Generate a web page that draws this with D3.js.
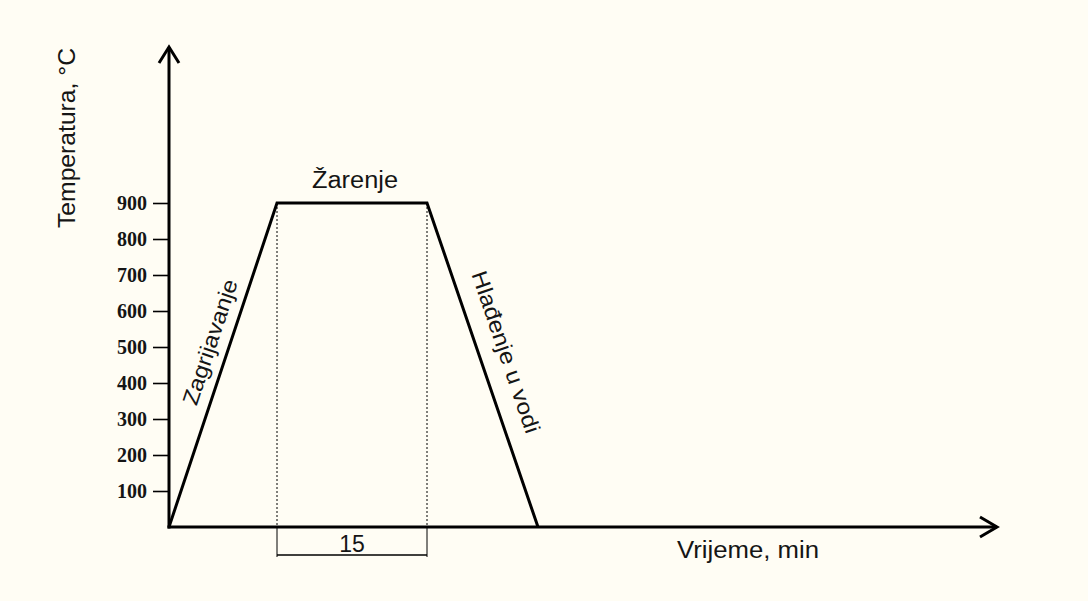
<!DOCTYPE html>
<html><head><meta charset="utf-8">
<script src="https://cdn.jsdelivr.net/npm/d3@7"></script>
<style>
html,body{margin:0;padding:0;background:#fffdf4;}
svg{display:block;}
</style></head>
<body>
<svg id="chart" width="1088" height="601"></svg>
<script>
// Data
const times = [0, 10.8, 25.8, 36.9];          // minutes
const temps = [0, 900, 900, 0];               // °C
const yTicks = [100, 200, 300, 400, 500, 600, 700, 800, 900];
const phaseLabels = ["Zagrijavanje", "Žarenje", "Hlađenje u vodi"];
const holdLabel = "15";
const yTitle = "Temperatura, °C";
const xTitle = "Vrijeme, min";

const svg = d3.select("#chart");
svg.append("rect").attr("width",1088).attr("height",601).attr("fill","#fffdf4");

const x = d3.scaleLinear().domain([0, 82.8]).range([169, 997]);
const y = d3.scaleLinear().domain([0, 900]).range([527, 203]);
const sans = "'Liberation Sans',Arial,sans-serif";
const ink = "#151515";

// Y ticks
const yAxis = d3.axisLeft(y).tickValues(yTicks).tickSize(15).tickPadding(6).tickFormat(d3.format("d"));
const gy = svg.append("g").attr("transform", `translate(${x(0)-1},0)`).call(yAxis);
gy.select(".domain").remove();
gy.selectAll(".tick line").attr("stroke","#000").attr("stroke-width",1.6);
gy.selectAll(".tick text").attr("fill",ink).style("font-family","'Liberation Serif','Times New Roman',serif")
  .style("font-weight","bold").style("font-size","20px");

// Dashed guide lines at plateau start/end
[times[1], times[2]].forEach(t => {
  svg.append("line").attr("x1",x(t)).attr("x2",x(t)).attr("y1",y(900)).attr("y2",y(0))
    .attr("stroke","#000").attr("stroke-width",1).attr("stroke-dasharray","2,2");
  svg.append("line").attr("x1",x(t)).attr("x2",x(t)).attr("y1",y(0)).attr("y2",y(0)+30)
    .attr("stroke","#000").attr("stroke-width",1);
});
svg.append("line").attr("x1",x(times[1])).attr("x2",x(times[2])).attr("y1",y(0)+28).attr("y2",y(0)+28)
  .attr("stroke","#000").attr("stroke-width",1.3);
svg.append("text").attr("x",(x(times[1])+x(times[2]))/2).attr("y",y(0)+25)
  .attr("text-anchor","middle").style("font-family",sans)
  .style("font-size","23px").attr("fill",ink).text(holdLabel);

// Axes with arrows
svg.append("line").attr("x1",x(0)).attr("x2",x(0)).attr("y1",y(0)+1.5).attr("y2",47)
  .attr("stroke","#000").attr("stroke-width",3);
svg.append("line").attr("x1",x(0)-1.5).attr("x2",x(82.8)).attr("y1",y(0)).attr("y2",y(0))
  .attr("stroke","#000").attr("stroke-width",3);
svg.append("path").attr("d",`M${x(0)-10},63 L${x(0)},47 L${x(0)+10},63`)
  .attr("fill","none").attr("stroke","#000").attr("stroke-width",3);
svg.append("path").attr("d",`M${x(82.8)-17},${y(0)-10} L${x(82.8)},${y(0)} L${x(82.8)-17},${y(0)+10}`)
  .attr("fill","none").attr("stroke","#000").attr("stroke-width",3);

// Process curve
const line = d3.line().x((d,i)=>x(times[i])).y(d=>y(d));
svg.append("path").datum(temps).attr("d",line).attr("fill","none")
  .attr("stroke","#000").attr("stroke-width",3).attr("stroke-linejoin","miter");

// Phase labels
const a1 = Math.atan2(y(0)-y(900), x(times[1])-x(times[0]))*180/Math.PI;
svg.append("text").attr("transform",`translate(210,342) rotate(${-a1})`)
  .attr("text-anchor","middle").attr("dy","0.35em").attr("textLength",131).attr("lengthAdjust","spacingAndGlyphs")
  .style("font-family",sans).style("font-size","22px").attr("fill",ink).text(phaseLabels[0]);
svg.append("text").attr("x",355).attr("y",188)
  .attr("text-anchor","middle").attr("textLength",86).attr("lengthAdjust","spacingAndGlyphs")
  .style("font-family",sans).style("font-size","23px").attr("fill",ink).text(phaseLabels[1]);
const a2 = Math.atan2(y(0)-y(900), x(times[3])-x(times[2]))*180/Math.PI;
svg.append("text").attr("transform",`translate(506,352) rotate(${a2})`)
  .attr("text-anchor","middle").attr("dy","0.35em").attr("textLength",170).attr("lengthAdjust","spacingAndGlyphs")
  .style("font-family",sans).style("font-size","22px").attr("fill",ink).text(phaseLabels[2]);

// Titles
svg.append("text").attr("transform",`translate(75,138) rotate(-90)`).attr("text-anchor","middle")
  .attr("textLength",180).attr("lengthAdjust","spacingAndGlyphs")
  .style("font-family",sans).style("font-size","23px").attr("fill",ink).text(yTitle);
svg.append("text").attr("x",677).attr("y",558).attr("textLength",142).attr("lengthAdjust","spacingAndGlyphs")
  .style("font-family",sans).style("font-size","23px").attr("fill",ink).text(xTitle);
</script>
</body></html>
